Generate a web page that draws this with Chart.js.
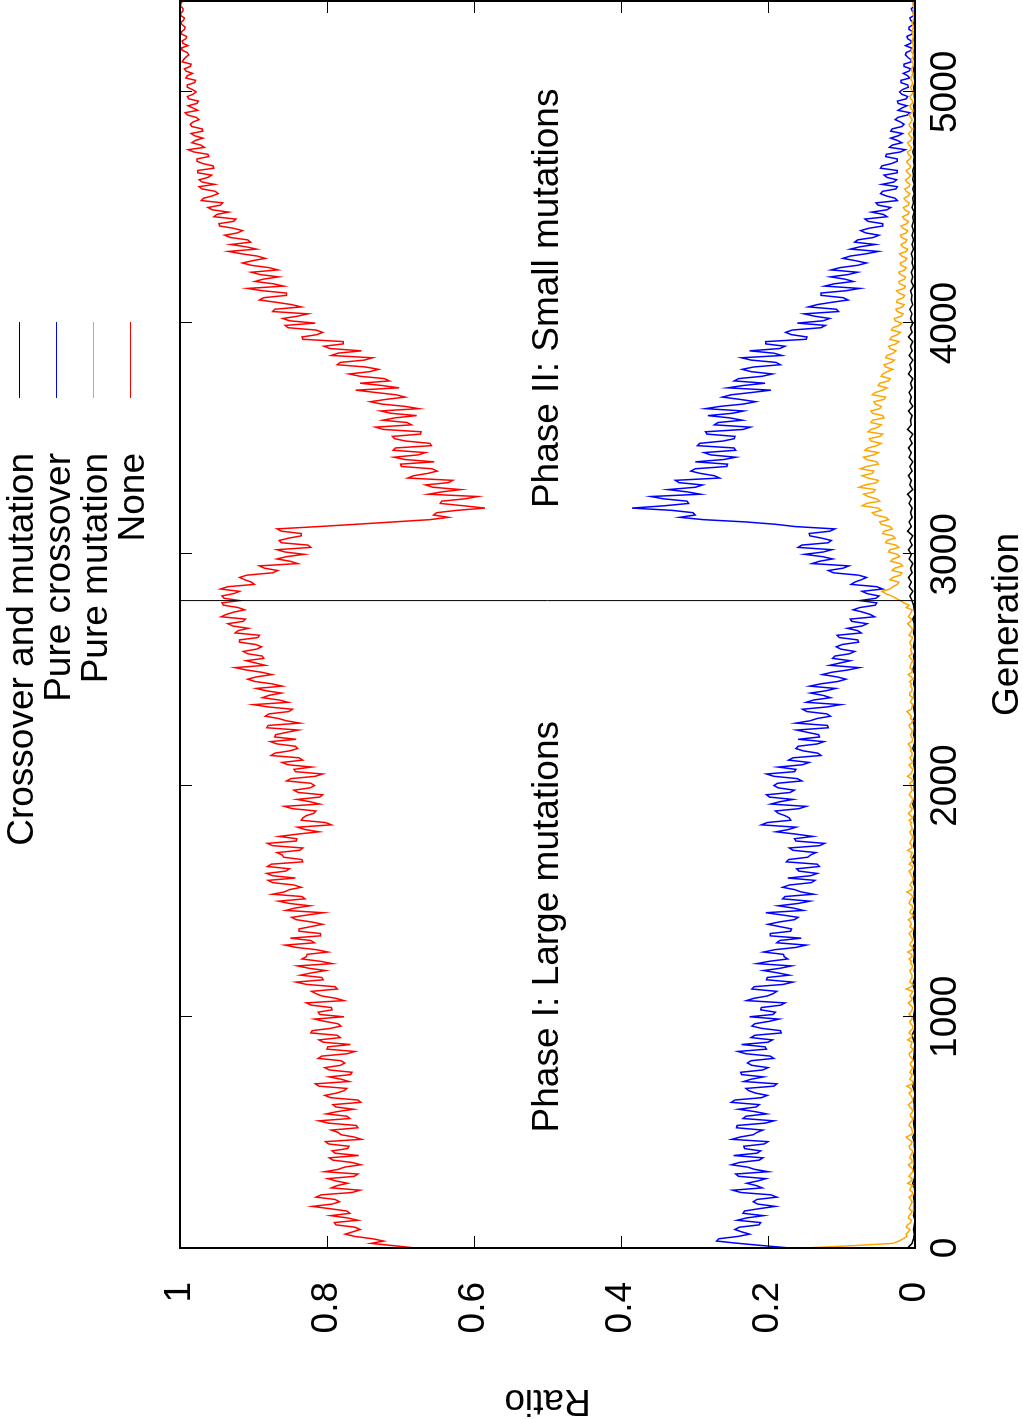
<!DOCTYPE html>
<html><head><meta charset="utf-8">
<script src="https://cdn.jsdelivr.net/npm/chart.js@4.4.1/dist/chart.umd.min.js"></script>
<style>
html,body{margin:0;padding:0;background:#fff;overflow:hidden;}
#page{position:relative;width:1023px;height:1419px;overflow:hidden;background:#fff;}
#rot{position:absolute;left:0;top:0;width:1419px;height:1023px;transform-origin:0 0;transform:translateY(1419px) rotate(-90deg);}
</style></head><body>
<div id="page"><div id="rot"><canvas id="c" width="1419" height="1023"></canvas></div></div>
<script>
// ---- data: None / Pure crossover / Pure mutation sampled every 10 generations ----
const none = [
0.680,0.709,0.740,0.723,0.738,0.762,0.775,0.765,0.755,0.762,0.788,0.790,0.758,0.772,0.795,0.769,0.773,0.796,0.820,0.793,
0.783,0.789,0.815,0.808,0.766,0.755,0.794,0.786,0.772,0.788,0.799,0.763,0.758,0.803,0.785,0.776,0.754,0.766,0.792,0.797,
0.757,0.789,0.793,0.772,0.770,0.798,0.802,0.753,0.763,0.781,0.785,0.794,0.758,0.760,0.798,0.811,0.769,0.773,0.801,0.786,
0.764,0.788,0.792,0.754,0.758,0.795,0.803,0.787,0.777,0.773,0.811,0.816,0.770,0.781,0.797,0.768,0.766,0.797,0.803,0.782,
0.776,0.781,0.812,0.807,0.773,0.762,0.800,0.799,0.768,0.805,0.811,0.782,0.786,0.822,0.820,0.795,0.781,0.785,0.803,0.817,
0.777,0.810,0.812,0.793,0.794,0.821,0.828,0.777,0.788,0.807,0.815,0.821,0.786,0.789,0.828,0.842,0.805,0.807,0.836,0.821,
0.802,0.825,0.840,0.793,0.809,0.834,0.828,0.827,0.799,0.814,0.842,0.857,0.817,0.822,0.850,0.809,0.809,0.838,0.838,0.822,
0.806,0.821,0.842,0.848,0.827,0.805,0.856,0.844,0.823,0.851,0.866,0.830,0.834,0.874,0.858,0.851,0.835,0.845,0.874,0.880,
0.843,0.874,0.882,0.856,0.851,0.881,0.876,0.833,0.834,0.859,0.861,0.868,0.837,0.833,0.874,0.881,0.842,0.841,0.865,0.840,
0.811,0.830,0.840,0.794,0.802,0.835,0.833,0.828,0.818,0.815,0.847,0.858,0.810,0.823,0.841,0.810,0.806,0.839,0.845,0.823,
0.817,0.822,0.855,0.849,0.816,0.806,0.843,0.845,0.821,0.853,0.861,0.833,0.838,0.876,0.871,0.851,0.840,0.843,0.868,0.877,
0.842,0.871,0.870,0.855,0.839,0.882,0.880,0.837,0.855,0.866,0.884,0.879,0.852,0.847,0.880,0.900,0.853,0.865,0.888,0.879,
0.862,0.883,0.896,0.861,0.875,0.898,0.908,0.896,0.875,0.889,0.910,0.925,0.884,0.897,0.910,0.886,0.888,0.908,0.914,0.896,
0.889,0.897,0.919,0.919,0.894,0.892,0.925,0.921,0.907,0.928,0.935,0.914,0.911,0.944,0.937,0.927,0.912,0.921,0.941,0.943,
0.919,0.940,0.943,0.927,0.919,0.945,0.935,0.899,0.903,0.912,0.919,0.909,0.874,0.867,0.885,0.892,0.840,0.850,0.868,0.855,
0.831,0.857,0.868,0.822,0.826,0.862,0.865,0.852,0.835,0.835,0.862,0.868,0.812,0.760,0.710,0.660,0.635,0.655,0.651,0.624,
0.585,0.614,0.646,0.644,0.612,0.595,0.662,0.644,0.618,0.656,0.666,0.635,0.629,0.690,0.682,0.663,0.650,0.657,0.699,0.700,
0.654,0.694,0.709,0.676,0.666,0.710,0.707,0.658,0.660,0.693,0.708,0.711,0.673,0.672,0.723,0.734,0.685,0.691,0.724,0.708,
0.678,0.713,0.727,0.675,0.694,0.726,0.741,0.720,0.694,0.706,0.734,0.761,0.702,0.725,0.755,0.715,0.722,0.755,0.770,0.742,
0.730,0.747,0.786,0.782,0.749,0.738,0.794,0.785,0.753,0.796,0.804,0.778,0.778,0.833,0.834,0.814,0.806,0.815,0.853,0.857,
0.816,0.851,0.860,0.840,0.826,0.874,0.871,0.835,0.848,0.869,0.892,0.886,0.855,0.855,0.888,0.908,0.859,0.873,0.898,0.887,
0.866,0.891,0.903,0.867,0.879,0.903,0.915,0.901,0.884,0.895,0.917,0.934,0.896,0.910,0.931,0.904,0.908,0.931,0.939,0.922,
0.915,0.927,0.946,0.947,0.927,0.924,0.954,0.950,0.934,0.956,0.962,0.945,0.942,0.971,0.968,0.956,0.948,0.952,0.970,0.974,
0.953,0.970,0.974,0.962,0.957,0.976,0.976,0.954,0.955,0.969,0.977,0.977,0.961,0.962,0.981,0.989,0.967,0.972,0.984,0.979,
0.969,0.980,0.985,0.969,0.970,0.984,0.986,0.982,0.974,0.978,0.990,0.993,0.976,0.982,0.989,0.977,0.975,0.988,0.990,0.982,
0.978,0.983,0.990,0.990,0.980,0.979,0.992,0.990,0.983,0.992,0.994,0.986,0.985,0.997,0.995,0.992,0.988,0.990,0.997,0.998,
0.989,0.996,0.997,0.992,0.991,0.998,0.998,0.994,0.993,0.997,0.999,0.995,0.994,0.999,0.999,0.996,0.996,0.999,0.999,0.997
];
const pureCrossover = [
0.170,0.206,0.240,0.270,0.267,0.241,0.225,0.236,0.245,0.239,0.212,0.210,0.242,0.229,0.206,0.234,0.232,0.212,0.190,0.214,
0.220,0.215,0.188,0.196,0.237,0.248,0.208,0.216,0.229,0.214,0.203,0.240,0.244,0.200,0.218,0.228,0.250,0.239,0.212,0.207,
0.247,0.215,0.210,0.232,0.233,0.205,0.200,0.249,0.238,0.220,0.215,0.207,0.243,0.242,0.204,0.192,0.234,0.230,0.202,0.218,
0.240,0.216,0.212,0.250,0.245,0.209,0.201,0.217,0.226,0.230,0.192,0.188,0.233,0.223,0.206,0.236,0.237,0.207,0.200,0.222,
0.228,0.223,0.192,0.197,0.230,0.241,0.202,0.204,0.236,0.200,0.194,0.223,0.218,0.182,0.183,0.209,0.222,0.218,0.199,0.185,
0.225,0.193,0.190,0.210,0.209,0.183,0.177,0.229,0.219,0.201,0.193,0.188,0.222,0.219,0.179,0.166,0.202,0.201,0.171,0.187,
0.206,0.183,0.168,0.215,0.198,0.173,0.178,0.179,0.206,0.191,0.162,0.148,0.188,0.184,0.155,0.197,0.197,0.169,0.168,0.184,
0.200,0.185,0.164,0.159,0.180,0.203,0.152,0.165,0.186,0.159,0.143,0.180,0.177,0.138,0.155,0.164,0.180,0.171,0.141,0.136,
0.173,0.142,0.133,0.158,0.161,0.130,0.133,0.175,0.172,0.146,0.142,0.135,0.166,0.171,0.130,0.123,0.162,0.164,0.139,0.162,
0.189,0.172,0.162,0.209,0.201,0.169,0.171,0.177,0.186,0.190,0.158,0.148,0.196,0.184,0.166,0.198,0.202,0.170,0.164,0.186,
0.192,0.187,0.154,0.160,0.192,0.202,0.164,0.162,0.186,0.153,0.144,0.172,0.166,0.128,0.132,0.152,0.162,0.159,0.133,0.124,
0.159,0.130,0.131,0.146,0.161,0.118,0.119,0.162,0.143,0.133,0.115,0.120,0.147,0.153,0.120,0.101,0.148,0.138,0.115,0.125,
0.142,0.121,0.108,0.143,0.128,0.105,0.094,0.106,0.126,0.113,0.091,0.076,0.116,0.102,0.088,0.112,0.109,0.089,0.082,0.101,
0.107,0.099,0.077,0.078,0.103,0.106,0.073,0.078,0.092,0.072,0.065,0.086,0.088,0.055,0.061,0.071,0.084,0.075,0.054,0.052,
0.075,0.053,0.049,0.065,0.072,0.044,0.052,0.087,0.082,0.073,0.066,0.077,0.111,0.118,0.098,0.090,0.140,0.130,0.112,0.126,
0.150,0.125,0.113,0.159,0.154,0.118,0.114,0.127,0.143,0.144,0.116,0.109,0.163,0.190,0.230,0.288,0.320,0.299,0.302,0.330,
0.385,0.341,0.308,0.310,0.342,0.359,0.292,0.310,0.336,0.299,0.289,0.321,0.326,0.266,0.273,0.292,0.305,0.299,0.256,0.255,
0.299,0.260,0.244,0.278,0.287,0.244,0.246,0.296,0.293,0.261,0.246,0.245,0.283,0.285,0.234,0.224,0.273,0.268,0.235,0.252,
0.282,0.248,0.233,0.285,0.265,0.233,0.217,0.238,0.262,0.250,0.222,0.196,0.255,0.234,0.204,0.246,0.240,0.208,0.194,0.223,
0.235,0.220,0.183,0.189,0.223,0.236,0.181,0.192,0.225,0.184,0.177,0.203,0.203,0.148,0.147,0.168,0.176,0.167,0.128,0.122,
0.160,0.125,0.116,0.137,0.151,0.104,0.107,0.145,0.133,0.113,0.091,0.098,0.128,0.128,0.094,0.075,0.123,0.110,0.084,0.095,
0.115,0.091,0.078,0.114,0.102,0.078,0.066,0.081,0.098,0.088,0.066,0.050,0.088,0.075,0.054,0.082,0.078,0.057,0.049,0.067,
0.074,0.063,0.044,0.044,0.064,0.068,0.038,0.043,0.059,0.038,0.033,0.050,0.053,0.024,0.027,0.039,0.047,0.044,0.026,0.024,
0.045,0.029,0.025,0.038,0.042,0.024,0.024,0.047,0.045,0.032,0.024,0.024,0.040,0.039,0.020,0.013,0.035,0.031,0.018,0.024,
0.033,0.023,0.017,0.033,0.031,0.018,0.015,0.020,0.027,0.023,0.010,0.007,0.023,0.018,0.011,0.023,0.024,0.012,0.010,0.018,
0.021,0.017,0.009,0.010,0.019,0.019,0.007,0.010,0.016,0.008,0.006,0.015,0.015,0.005,0.006,0.010,0.013,0.012,0.005,0.005,
0.013,0.006,0.005,0.010,0.011,0.004,0.003,0.008,0.008,0.003,0.002,0.006,0.007,0.002,0.001,0.004,0.005,0.001,0.001,0.003
];
const pureMutation = [
0.150,0.085,0.030,0.022,0.016,0.011,0.012,0.009,0.007,0.012,0.010,0.006,0.005,0.009,0.008,0.005,0.004,0.008,0.007,0.005,
0.004,0.006,0.008,0.004,0.003,0.007,0.006,0.003,0.010,0.005,0.004,0.008,0.006,0.003,0.003,0.006,0.009,0.004,0.004,0.007,
0.006,0.004,0.003,0.007,0.008,0.005,0.004,0.009,0.012,0.005,0.003,0.004,0.005,0.008,0.007,0.004,0.003,0.006,0.006,0.003,
0.004,0.007,0.009,0.005,0.003,0.004,0.006,0.008,0.004,0.006,0.011,0.003,0.003,0.007,0.005,0.004,0.007,0.005,0.003,0.006,
0.006,0.003,0.004,0.007,0.008,0.005,0.003,0.006,0.005,0.004,0.010,0.005,0.004,0.008,0.006,0.003,0.003,0.006,0.007,0.004,
0.004,0.008,0.006,0.004,0.003,0.006,0.009,0.005,0.004,0.007,0.005,0.003,0.012,0.005,0.003,0.007,0.006,0.004,0.004,0.006,
0.007,0.004,0.003,0.006,0.005,0.008,0.004,0.005,0.010,0.004,0.003,0.007,0.006,0.003,0.004,0.006,0.008,0.005,0.003,0.007,
0.005,0.006,0.009,0.004,0.003,0.007,0.006,0.003,0.004,0.008,0.007,0.005,0.003,0.006,0.011,0.004,0.004,0.007,0.005,0.003,
0.003,0.005,0.006,0.008,0.004,0.003,0.008,0.005,0.003,0.006,0.005,0.004,0.010,0.005,0.004,0.007,0.006,0.004,0.003,0.006,
0.007,0.004,0.004,0.006,0.005,0.008,0.003,0.006,0.009,0.005,0.004,0.007,0.006,0.004,0.003,0.005,0.008,0.006,0.004,0.005,
0.005,0.007,0.003,0.005,0.010,0.006,0.004,0.003,0.006,0.008,0.003,0.005,0.007,0.004,0.004,0.006,0.005,0.007,0.009,0.004,
0.003,0.005,0.006,0.004,0.004,0.007,0.008,0.005,0.003,0.006,0.005,0.008,0.011,0.005,0.004,0.003,0.006,0.005,0.003,0.007,
0.007,0.004,0.004,0.006,0.005,0.007,0.003,0.005,0.009,0.004,0.004,0.007,0.006,0.005,0.003,0.006,0.008,0.004,0.005,0.006,
0.004,0.006,0.007,0.005,0.003,0.008,0.006,0.004,0.004,0.007,0.010,0.006,0.005,0.009,0.007,0.005,0.004,0.012,0.008,0.015,
0.020,0.026,0.032,0.040,0.045,0.034,0.030,0.024,0.022,0.034,0.030,0.020,0.018,0.031,0.028,0.017,0.020,0.033,0.030,0.021,
0.024,0.036,0.034,0.022,0.026,0.040,0.038,0.027,0.030,0.044,0.042,0.031,0.034,0.046,0.048,0.036,0.040,0.054,0.058,0.046,
0.050,0.072,0.066,0.048,0.052,0.064,0.070,0.056,0.054,0.076,0.068,0.052,0.050,0.064,0.072,0.058,0.056,0.074,0.066,0.050,
0.052,0.066,0.070,0.056,0.050,0.068,0.064,0.052,0.046,0.060,0.062,0.048,0.044,0.064,0.060,0.050,0.046,0.060,0.058,0.042,
0.044,0.058,0.060,0.048,0.046,0.054,0.056,0.042,0.040,0.058,0.054,0.044,0.038,0.050,0.048,0.036,0.034,0.046,0.044,0.038,
0.030,0.040,0.042,0.032,0.028,0.040,0.038,0.030,0.026,0.034,0.036,0.026,0.022,0.034,0.032,0.024,0.020,0.032,0.030,0.022,
0.018,0.027,0.028,0.019,0.016,0.024,0.026,0.017,0.015,0.025,0.024,0.016,0.014,0.022,0.025,0.015,0.013,0.021,0.022,0.014,
0.013,0.020,0.022,0.014,0.012,0.019,0.020,0.013,0.011,0.018,0.021,0.012,0.010,0.017,0.019,0.013,0.011,0.018,0.020,0.012,
0.010,0.016,0.019,0.011,0.009,0.015,0.017,0.010,0.008,0.014,0.016,0.009,0.008,0.013,0.015,0.009,0.007,0.012,0.014,0.008,
0.007,0.011,0.013,0.008,0.006,0.010,0.012,0.007,0.006,0.010,0.011,0.007,0.005,0.009,0.010,0.006,0.005,0.008,0.010,0.006,
0.004,0.007,0.009,0.005,0.004,0.007,0.008,0.005,0.004,0.006,0.008,0.004,0.003,0.006,0.007,0.004,0.003,0.006,0.007,0.004,
0.003,0.005,0.006,0.004,0.003,0.005,0.006,0.004,0.003,0.004,0.005,0.003,0.002,0.004,0.005,0.003,0.002,0.004,0.005,0.003,
0.002,0.003,0.004,0.003,0.002,0.003,0.004,0.003,0.002,0.003,0.004,0.002,0.001,0.002,0.003,0.002,0.001,0.002,0.003,0.002
];
// ---- Crossover and mutation: sampled every 20 generations ----
const crossoverAndMutation = [
0.010,0.004,0.002,0.001,0.002,0.001,0.000,0.002,0.001,0.001,
0.001,0.002,0.000,0.001,0.003,0.001,0.000,0.002,0.001,0.001,
0.002,0.000,0.001,0.001,0.003,0.000,0.001,0.002,0.001,0.000,
0.001,0.001,0.002,0.000,0.001,0.003,0.001,0.000,0.002,0.001,
0.000,0.002,0.001,0.001,0.000,0.002,0.004,0.001,0.000,0.001,
0.002,0.001,0.000,0.001,0.002,0.000,0.001,0.003,0.001,0.000,
0.001,0.000,0.002,0.001,0.001,0.003,0.000,0.001,0.002,0.001,
0.000,0.001,0.003,0.001,0.000,0.002,0.001,0.001,0.000,0.002,
0.001,0.002,0.000,0.001,0.004,0.001,0.000,0.002,0.001,0.001,
0.002,0.000,0.001,0.002,0.000,0.001,0.003,0.001,0.000,0.001,
0.001,0.001,0.002,0.000,0.001,0.002,0.001,0.000,0.003,0.001,
0.000,0.002,0.001,0.001,0.003,0.000,0.001,0.002,0.000,0.001,
0.001,0.000,0.002,0.001,0.000,0.003,0.001,0.001,0.002,0.000,
0.002,0.001,0.000,0.002,0.001,0.001,0.003,0.000,0.001,0.002,
0.004,0.007,0.003,0.008,0.005,0.009,0.004,0.006,0.003,0.008,
0.005,0.009,0.004,0.007,0.003,0.010,0.005,0.008,0.004,0.006,
0.004,0.008,0.005,0.010,0.003,0.007,0.005,0.009,0.004,0.007,
0.003,0.008,0.005,0.009,0.004,0.007,0.003,0.010,0.005,0.006,
0.004,0.009,0.003,0.007,0.005,0.008,0.004,0.006,0.003,0.009,
0.005,0.007,0.003,0.008,0.004,0.006,0.003,0.009,0.004,0.006,
0.003,0.006,0.004,0.007,0.003,0.005,0.004,0.006,0.002,0.005,
0.003,0.005,0.002,0.004,0.003,0.005,0.002,0.004,0.002,0.004,
0.002,0.004,0.002,0.003,0.001,0.004,0.002,0.003,0.001,0.003,
0.001,0.003,0.002,0.003,0.001,0.002,0.001,0.003,0.001,0.002,
0.001,0.002,0.001,0.002,0.000,0.002,0.001,0.002,0.000,0.001,
0.001,0.002,0.000,0.001,0.001,0.002,0.000,0.001,0.001,0.001,
0.000,0.001,0.001,0.000,0.001,0.001,0.000,0.001,0.000,0.001
];
const generations10 = none.map((_, i) => i * 10);
const generations20 = crossoverAndMutation.map((_, i) => i * 20);
const genMax = 5393;
const phaseBoundary = 2800;
const genTicks = [0, 1000, 2000, 3000, 4000, 5000];
const genTickLabels = ['0', '1000', '2000', '3000', '4000', '5000'];
const ratioTicks = [0, 0.2, 0.4, 0.6, 0.8, 1];
const ratioTickLabels = ['0', '0.2', '0.4', '0.6', '0.8', '1'];
const seriesNames = ['Crossover and mutation', 'Pure crossover', 'Pure mutation', 'None'];
const seriesColors = ['#000000', '#0000ff', '#ffa500', '#ff0000'];
const phaseLabels = ['Phase I: Large mutations', 'Phase II: Small mutations'];
const phaseLabelGens = [500, 3200];
const phaseLabelRatio = 0.5;

// ---- chart ----
const FONT = "'Liberation Sans', Arial, Helvetica, sans-serif";
const FS = 37;
Chart.defaults.font.family = FONT;
Chart.defaults.color = '#000';

const pts = (xs, arr) => arr.map((v, i) => ({x: xs[i], y: v}));

const gnuplotDecor = {
  id: 'gnuplotDecor',
  afterDatasetsDraw(chart) {
    const {ctx, chartArea: a, scales: {x, y}} = chart;
    ctx.save();
    ctx.strokeStyle = '#000';
    ctx.lineWidth = 1;
    const L = 12;
    ctx.beginPath();
    genTicks.forEach(v => {
      const px = Math.round(x.getPixelForValue(v)) + 0.5;
      ctx.moveTo(px, a.bottom); ctx.lineTo(px, a.bottom - L);
      ctx.moveTo(px, a.top); ctx.lineTo(px, a.top + L);
    });
    ratioTicks.forEach(v => {
      const py = Math.round(y.getPixelForValue(v)) + 0.5;
      ctx.moveTo(a.left, py); ctx.lineTo(a.left + L, py);
      ctx.moveTo(a.right, py); ctx.lineTo(a.right - L, py);
    });
    ctx.stroke();
    ctx.lineWidth = 2;
    ctx.strokeRect(a.left, a.top, a.right - a.left, a.bottom - a.top);

    ctx.fillStyle = '#000';
    ctx.font = FS + 'px ' + FONT;
    ctx.textAlign = 'left';
    ctx.textBaseline = 'middle';
    phaseLabels.forEach((t, i) => {
      ctx.fillText(t, x.getPixelForValue(phaseLabelGens[i]), y.getPixelForValue(phaseLabelRatio));
    });

    // gnuplot-style key above the plot
    ctx.textAlign = 'right';
    ctx.textBaseline = 'alphabetic';
    ctx.lineWidth = 1;
    seriesNames.forEach((name, i) => {
      const base = 33 + i * 37;
      ctx.fillStyle = '#000';
      ctx.fillText(name, 966, base);
      ctx.strokeStyle = seriesColors[i];
      ctx.beginPath();
      ctx.moveTo(1021, base - 13.5);
      ctx.lineTo(1097, base - 13.5);
      ctx.stroke();
    });
    ctx.restore();
  }
};

new Chart(document.getElementById('c'), {
  type: 'line',
  data: {
    datasets: [
      {label: seriesNames[3], data: pts(generations10, none), borderColor: seriesColors[3], order: 1},
      {label: seriesNames[2], data: pts(generations10, pureMutation), borderColor: seriesColors[2], order: 2},
      {label: seriesNames[1], data: pts(generations10, pureCrossover), borderColor: seriesColors[1], order: 3},
      {label: seriesNames[0], data: pts(generations20, crossoverAndMutation), borderColor: seriesColors[0], order: 4},
      {label: 'boundary', data: [{x: phaseBoundary, y: 0}, {x: phaseBoundary, y: 1}], borderColor: '#000', borderWidth: 1, order: 0}
    ]
  },
  options: {
    responsive: false,
    animation: false,
    devicePixelRatio: 1,
    elements: {point: {radius: 0, hoverRadius: 0}, line: {borderWidth: 1.5, tension: 0, fill: false}},
    layout: {padding: {left: 0, right: 1, top: 180, bottom: 0}},
    plugins: {legend: {display: false}, tooltip: {enabled: false}},
    events: [],
    scales: {
      x: {
        type: 'linear', min: 0, max: genMax,
        grid: {display: false, drawTicks: false},
        border: {display: false},
        afterBuildTicks: s => { s.ticks = genTicks.map(v => ({value: v})); },
        afterFit: s => { s.height = 108; },
        ticks: {font: {size: FS}, color: '#000', padding: 9, maxRotation: 0, minRotation: 0, autoSkip: false,
                callback: (v, i) => genTickLabels[i]},
        title: {display: true, text: 'Generation', font: {size: FS, lineHeight: 1}, color: '#000', padding: {top: 0, bottom: -3}}
      },
      y: {
        type: 'linear', min: 0, max: 1,
        grid: {display: false, drawTicks: false},
        border: {display: false},
        afterBuildTicks: s => { s.ticks = ratioTicks.map(v => ({value: v})); },
        afterFit: s => { s.width = 171; },
        ticks: {font: {size: FS}, color: '#000', padding: 34, autoSkip: false,
                callback: (v, i) => ratioTickLabels[i]},
        title: {display: true, text: 'Ratio', font: {size: FS, lineHeight: 1}, color: '#000', padding: 0}
      }
    }
  },
  plugins: [gnuplotDecor]
});
</script>
</body></html>
